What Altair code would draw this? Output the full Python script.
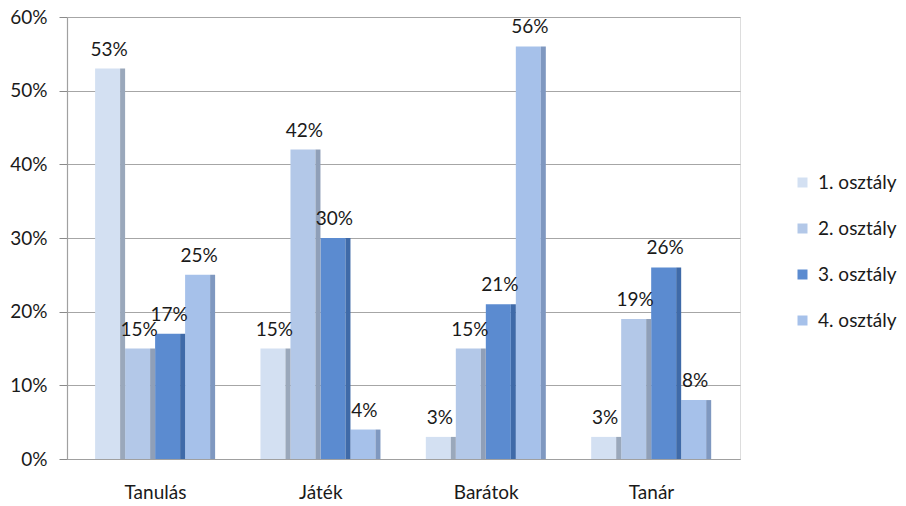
import altair as alt
import pandas as pd

categories = ["Tanulás", "Játék", "Barátok", "Tanár"]
series = ["1. osztály", "2. osztály", "3. osztály", "4. osztály"]
values = {
    "1. osztály": [53, 15, 3, 3],
    "2. osztály": [15, 42, 15, 19],
    "3. osztály": [17, 30, 21, 26],
    "4. osztály": [25, 4, 56, 8],
}
front_colors = ["#d3e0f2", "#b3c8e8", "#5b8bd0", "#a6c1ea"]
side_colors = ["#9aa8bb", "#8f9fb8", "#3f6aa8", "#7f98c0"]

rows = []
for s, side in zip(series, side_colors):
    for c, v in zip(categories, values[s]):
        rows.append({"cat": c, "series": s, "value": v / 100,
                     "label": f"{v}%", "side": side})
df = pd.DataFrame(rows)

FONT = "Lato"
FS = 19

x = alt.X("cat:N", sort=categories, title=None,
          scale=alt.Scale(paddingInner=0.27, paddingOuter=0.17),
          axis=alt.Axis(labelAngle=0, labelFontSize=FS, labelFont=FONT,
                        labelColor="#1a1a1a", labelPadding=24, ticks=False,
                        domainColor="#a0a0a0"))
y = alt.Y("value:Q", title=None,
          scale=alt.Scale(domain=[0, 0.6], nice=False),
          axis=alt.Axis(format=".0%", values=[0, .1, .2, .3, .4, .5, .6],
                        labelFontSize=FS, labelFont=FONT, labelColor="#1a1a1a",
                        tickSize=8, tickColor="#8a8a8a", labelPadding=12,
                        gridColor="#a6a6a6", gridWidth=1.2,
                        domainColor="#a0a0a0", domainWidth=1.2))


def offset(lo, hi):
    # series positions inside the 120px group of each category
    return alt.XOffset("series:N", sort=series,
                       scale=alt.Scale(domain=series, range=[lo, hi],
                                       paddingInner=0, paddingOuter=0))


base = alt.Chart(df)

front = base.mark_bar(width=25).encode(
    x=x, xOffset=offset(-2.5, 117.5), y=y,
    color=alt.Color("series:N", sort=series,
                    scale=alt.Scale(domain=series, range=front_colors),
                    legend=alt.Legend(title=None, orient="none",
                                      legendX=726, legendY=156,
                                      labelFont=FONT, labelFontSize=FS,
                                      labelColor="#1a1a1a", symbolType="square",
                                      symbolSize=100, rowPadding=26,
                                      labelOffset=6)),
)

# darker right-hand side face of each bar
side = base.mark_rule(strokeWidth=5).encode(
    x=x, xOffset=offset(12.5, 132.5), y=y, y2=alt.datum(0),
    color=alt.Color("side:N", scale=None),
)

# text uses a point offset scale: one position per series, 30px apart
labels = base.mark_text(baseline="bottom", dy=-9,
                        font=FONT, fontSize=FS, color="#1a1a1a").encode(
    x=x, xOffset=offset(14, 104), y=y, text="label:N",
)

chart = alt.layer(front, side, labels).resolve_scale(
    xOffset="independent"
).properties(
    width=673, height=442,
    autosize=alt.AutoSizeParams(type="none"),
    padding={"left": 67, "top": 17, "right": 166, "bottom": 47},
).configure_view(stroke=None).configure(background="white")

chart.save("out.html", embed_options={"renderer": "svg", "actions": False})
